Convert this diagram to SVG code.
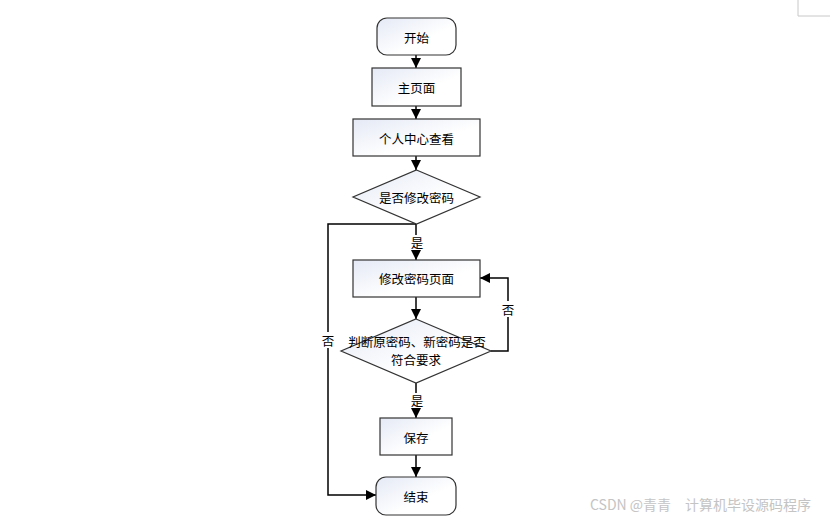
<svg xmlns="http://www.w3.org/2000/svg" width="840" height="521" viewBox="0 0 840 521">
<style>
.n{stroke:#333;stroke-width:1.2;fill:url(#g)}
.t{font-family:"Noto Sans CJK SC","Liberation Sans",sans-serif;font-size:12.5px;fill:#000;text-anchor:middle;dominant-baseline:central}
.c{fill:none;stroke:#000;stroke-width:1.5}
.w{font-family:"Noto Sans CJK SC","Liberation Sans",sans-serif;font-size:14px;fill:#c4c4c4}
</style>
<defs>
<linearGradient id="g" x1="0" y1="0" x2="1" y2="1">
<stop offset="0" stop-color="#e4e9f5"/>
<stop offset="0.6" stop-color="#ffffff"/>
</linearGradient>
<marker id="b" viewBox="0 0 10 10" refX="10" refY="5" markerWidth="10" markerHeight="10" markerUnits="userSpaceOnUse" orient="auto">
<path d="M0,0 L10,5 L0,10 z" fill="#000"/>
</marker>
</defs>
<rect width="840" height="521" fill="#fff"/>
<path d="M798,0 V16 H830" fill="none" stroke="#c8c8c8" stroke-width="1"/>
<g id="connectors">
<path class="c" d="M416,55 V68" marker-end="url(#b)"/>
<path class="c" d="M416,106 V119" marker-end="url(#b)"/>
<path class="c" d="M416,156 V170" marker-end="url(#b)"/>
<path class="c" d="M416,224 V260" marker-end="url(#b)"/>
<path class="c" d="M416,297 V319" marker-end="url(#b)"/>
<path class="c" d="M416,383 V418" marker-end="url(#b)"/>
<path class="c" d="M416,455 V477" marker-end="url(#b)"/>
<path class="c" d="M416,224 H328 V495 H376" marker-end="url(#b)"/>
<path class="c" d="M491,351 H508 V278 H480" marker-end="url(#b)"/>
<rect x="409" y="235" width="15" height="15" fill="#fff"/>
<text class="t" x="417" y="242">是</text>
<rect x="409" y="393" width="15" height="15" fill="#fff"/>
<text class="t" x="417" y="400">是</text>
<rect x="320" y="332" width="16" height="16" fill="#fff"/>
<text class="t" x="328" y="340">否</text>
<rect x="500" y="301" width="16" height="16" fill="#fff"/>
<text class="t" x="508" y="309">否</text>
</g>
<g id="start"><rect class="n" x="377" y="18" width="79" height="37" rx="10"/><text class="t" x="416.5" y="37">开始</text></g>
<g id="home"><rect class="n" x="372" y="68" width="89" height="38"/><text class="t" x="416.5" y="87">主页面</text></g>
<g id="profile"><rect class="n" x="353" y="119" width="127" height="37"/><text class="t" x="416.5" y="138">个人中心查看</text></g>
<g id="ask"><path class="n" d="M416.5,170 L480,197 L416.5,224 L353,197 Z"/><text class="t" x="416.5" y="197">是否修改密码</text></g>
<g id="pwdpage"><rect class="n" x="353" y="260" width="127" height="37"/><text class="t" x="416.5" y="278">修改密码页面</text></g>
<g id="check"><path class="n" d="M416,319 L491,351 L416,383 L341,351 Z"/><text class="t" x="417" y="341">判断原密码、新密码是否</text><text class="t" x="416" y="359">符合要求</text></g>
<g id="save"><rect class="n" x="380" y="418" width="72" height="37"/><text class="t" x="416" y="437">保存</text></g>
<g id="end"><rect class="n" x="376" y="477" width="80" height="38" rx="10"/><text class="t" x="416" y="496">结束</text></g>
<text class="w" x="590" y="510">CSDN @青青　计算机毕设源码程序</text>
</svg>
